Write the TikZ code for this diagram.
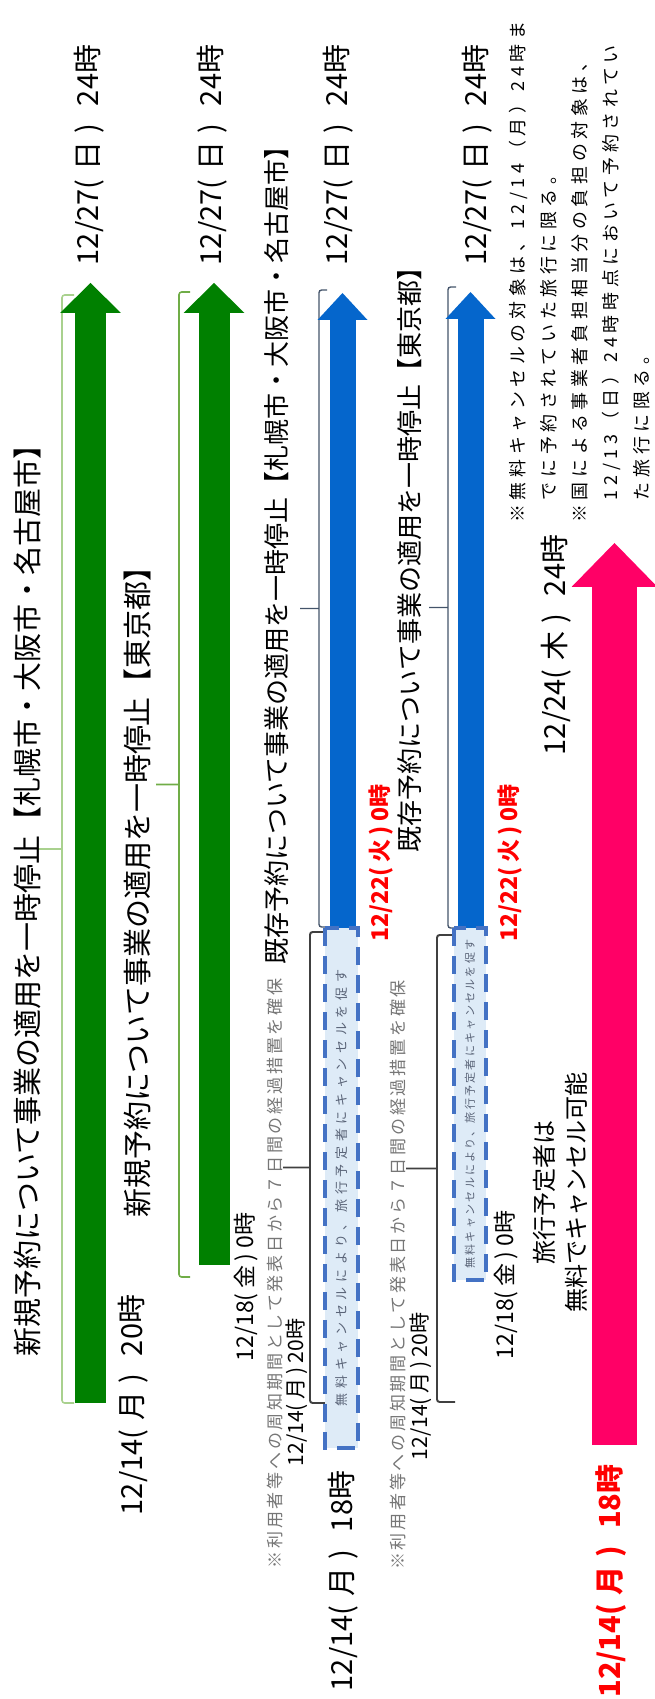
\documentclass[tikz,border=0pt]{standalone}
\usepackage{fontspec}
\setmainfont{Noto Sans CJK JP}
\usetikzlibrary{arrows.meta}

\definecolor{barGreen}{RGB}{0,128,0}
\definecolor{barBlue}{RGB}{5,102,204}
\definecolor{barPink}{RGB}{255,0,102}
\definecolor{brLight}{RGB}{169,209,142}
\definecolor{brGreen}{RGB}{112,173,71}
\definecolor{brNavy}{RGB}{68,84,106}
\definecolor{boxFill}{RGB}{222,235,247}
\definecolor{boxLine}{RGB}{68,114,196}
\definecolor{noteGray}{RGB}{118,118,118}
\definecolor{boxText}{RGB}{90,100,120}

\newcommand{\fsBig}{\fontsize{16.5pt}{19pt}\selectfont}
\newcommand{\fsMain}{\fontsize{14.8pt}{17pt}\selectfont}
\newcommand{\fsMid}{\fontsize{13.7pt}{18.2pt}\selectfont}
\newcommand{\fsDate}{\fontsize{13.1pt}{15pt}\selectfont}
\newcommand{\fsSmall}{\fontsize{12pt}{14pt}\selectfont}
\newcommand{\fsNote}{\fontsize{10.2pt}{17.6pt}\selectfont}
\newcommand{\fsGray}{\fontsize{9.7pt}{11pt}\selectfont}
\newcommand{\fsBoxA}{\fontsize{7.4pt}{9pt}\selectfont}
\newcommand{\fsBoxB}{\fontsize{6.3pt}{8pt}\selectfont}
% dates: day / weekday / hour
\newcommand{\datL}[3]{#1(\hspace{.3em}#2\hspace{.3em})\hspace{.6em}#3}
\newcommand{\datS}[3]{#1(\hspace{.2em}#2\hspace{.2em})\hspace{.2em}#3}

\begin{document}
\begin{tikzpicture}[
      x=0.02cm, y=-0.02cm,
      lbl/.style={
         rotate=90,
         inner sep=0pt,
         font=\fsBig},
      graynote/.style={
         rotate=90,
         inner sep=0pt,
         text=noteGray,
         font={\fsGray\addfontfeatures{LetterSpace=16}}},
      dashbox/.style={
         rotate=90,
         draw=boxLine,
         fill=boxFill,
         line width=0.07cm,
         dash pattern=on 0.36cm off 0.2cm,
         inner sep=0pt,
         text=boxText},
      bracket/.style={rounded corners=1.5pt},
      greenbar/.style={draw=barGreen, line width=0.62cm,
         -{Triangle[length=0.6cm,width=1.22cm,line width=0pt]}},
      bluebar/.style={draw=barBlue, line width=0.52cm,
         -{Triangle[length=0.54cm,width=1.0cm,line width=0pt]}},
      pinkbar/.style={draw=barPink, line width=0.9cm,
         -{Triangle[length=0.88cm,width=1.72cm,line width=0pt]}}
      ]
      \useasboundingbox (0,0) rectangle (654,1699);

      % brackets: x / top / bottom / tick / middle tick end / colour / width
      \foreach \x/\yt/\yb/\tr/\ml/\c/\w in {%
        62/295/1403/12/37/brLight/0.9pt,
        179/292/1277/11/156/brGreen/0.9pt,
        319/290/927/8/300/brNavy/0.8pt,
        448/287/928/8/429/brNavy/0.8pt,
        310/932/1403/16/283/black!75/1.1pt,
        437/935/1402/18/406/black!75/1.1pt}
        \draw[bracket, draw=\c, line width=\w]
           (\x+\tr,\yt) -- (\x,\yt) -- (\x,\yb) -- (\x+\tr,\yb)
           (\x,{(\yt+\yb)/2}) -- (\ml,{(\yt+\yb)/2});

      % bars
      \coordinate (g1s) at (90.5,1403);  \coordinate (g1e) at (90.5,283);
      \coordinate (g2s) at (214,1265);   \coordinate (g2e) at (214,283);
      \coordinate (b1s) at (342.5,928);  \coordinate (b1e) at (342.5,293);
      \coordinate (b2s) at (470.5,928);  \coordinate (b2e) at (470.5,292);
      \coordinate (ps) at (614.5,1445);  \coordinate (pe) at (614.5,543);
      \draw[greenbar] (g1s) -- (g1e);
      \draw[greenbar] (g2s) -- (g2e);
      \draw[bluebar] (b1s) -- (b1e);
      \draw[bluebar] (b2s) -- (b2e);
      \draw[pinkbar] (ps) -- (pe);

      % grace periods
      \node[dashbox, minimum width=10.4cm, minimum height=0.66cm,
         font={\fsBoxA\addfontfeatures{LetterSpace=36}}] (grace1) at (341.5,1188)
         {無料キャンセルにより、旅行予定者にキャンセルを促す};
      \node[dashbox, minimum width=7.04cm, minimum height=0.64cm,
         font={\fsBoxB\addfontfeatures{LetterSpace=20}}] (grace2) at (470,1104)
         {無料キャンセルにより、旅行予定者にキャンセルを促す};

      % dates
      \foreach \i/\x in {1/89.5, 2/212, 3/338, 4/477}
        \node[lbl] (end\i) at (\x,155) {\datL{12/27}{日}{24時}};
      \node[lbl] (start1) at (133.5,1405) {\datL{12/14}{月}{20時}};
      \node[lbl, font=\fsDate] (start2) at (246.5,1287) {\datS{12/18}{金}{0時}};
      \node[lbl] (start3) at (343.5,1581) {\datL{12/14}{月}{18時}};
      \node[lbl, font=\fsDate] (start4) at (506.5,1285) {\datS{12/18}{金}{0時}};
      \node[lbl, font=\fsSmall] (notice3) at (296.5,1392.5) {\datS{12/14}{月}{20時}};
      \node[lbl, font=\fsSmall] (notice4) at (420.5,1386.5) {\datS{12/14}{月}{20時}};
      \node[lbl, font=\fsDate\bfseries, text=red] (stop3) at (381,863) {\datS{12/22}{火}{0時}};
      \node[lbl, font=\fsDate\bfseries, text=red] (stop4) at (510,863) {\datS{12/22}{火}{0時}};
      \node[lbl] (endP) at (556.5,645) {\datL{12/24}{木}{24時}};
      \node[lbl, font=\fsBig\bfseries, text=red] (startP) at (611.5,1581) {\datL{12/14}{月}{18時}};

      % texts
      \node[lbl] (new1) at (27,893.5)
         {新規予約について事業の適用を一時停止【札幌市・大阪市・名古屋市】};
      \node[lbl] (new2) at (137.5,885)
         {新規予約について事業の適用を一時停止【東京都】};
      \node[lbl, font=\fsMain] (old1) at (277,549)
         {既存予約について事業の適用を一時停止【札幌市・大阪市・名古屋市】};
      \node[lbl, font=\fsMain] (old2) at (410,553.5)
         {既存予約について事業の適用を一時停止【東京都】};
      \node[graynote] (keep3) at (275,1273.5)
         {※利用者等への周知期間として発表日から７日間の経過措置を確保};
      \node[graynote] (keep4) at (398,1275)
         {※利用者等への周知期間として発表日から７日間の経過措置を確保};
      \node[lbl, font=\fsMid, align=center] (cancel) at (560.5,1192.5)
         {旅行予定者は\\無料でキャンセル可能};
      \node[lbl, anchor=north west, align=left,
         font={\fsNote\addfontfeatures{LetterSpace=26}}] (notes) at (509,523)
         {※無料キャンセルの対象は、12/14（月）24時ま\\
          　でに予約されていた旅行に限る。\\
          ※国による事業者負担相当分の負担の対象は、\\
          　12/13（日）24時時点において予約されてい\\
          　た旅行に限る。};
\end{tikzpicture}
\end{document}
